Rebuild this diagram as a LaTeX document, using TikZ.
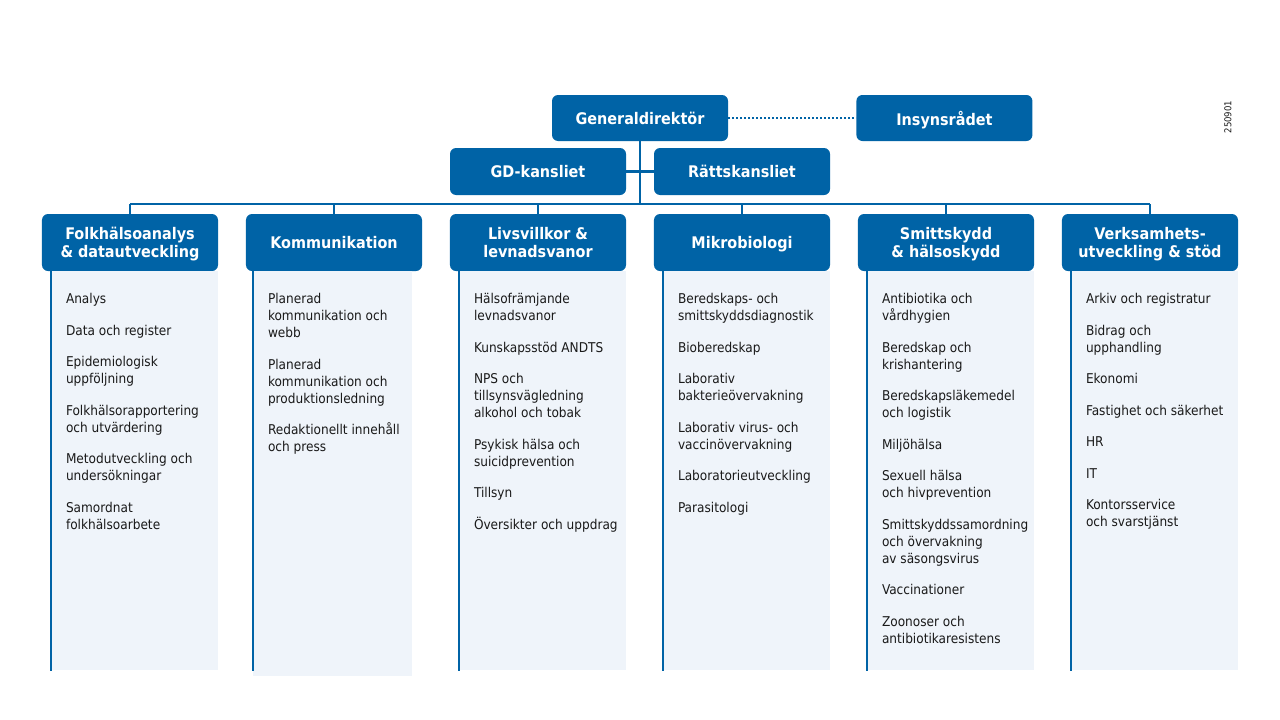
\documentclass[tikz,border=0pt]{standalone}
\usepackage{fontspec}
\setmainfont{DejaVu Sans Condensed}
\usetikzlibrary{positioning, matrix}
\definecolor{fhmblue}{RGB}{0,99,166}
\definecolor{panelblue}{RGB}{239,244,250}
\definecolor{itemtext}{RGB}{26,26,26}
\tikzstyle{unit} = [rectangle, rounded corners=6pt, fill=fhmblue, text=white, anchor=center, align=center, inner sep=0pt, text depth=0pt, minimum width=176pt, minimum height=46pt, font=\fontsize{16}{18}\selectfont\bfseries]
\tikzstyle{dept} = [unit, minimum height=57pt]
\tikzstyle{panel} = [rectangle, fill=panelblue, inner sep=0pt, minimum width=167pt, minimum height=399pt, anchor=north]
\tikzstyle{sideline} = [fhmblue, line width=2.5pt]
\tikzstyle{orgline} = [fhmblue, line width=2.5pt]
\tikzstyle{dotline} = [fhmblue, line width=2pt, dotted]
\tikzstyle{itemlist} = [anchor=north west, align=left, inner sep=0pt, text=itemtext, font=\fontsize{13.5}{17}\selectfont]

\begin{document}
\begin{tikzpicture}[x=1pt, y=-1pt]

    \useasboundingbox (0,0) rectangle (1280,720);

    % top of the organisation
    \node (gd) [unit] at (640,118) {Generaldirektör};
    \node (insyn) [unit, right=128pt of gd] {Insynsrådet};

    \matrix [column sep=28pt] at (640,171.5) {
        \node (gdk) [unit, minimum height=47pt] {GD-kansliet}; &
        \node (rk) [unit, minimum height=47pt] {Rättskansliet}; \\
    };

    % departments
    \matrix [column sep=28pt] at (640,242.5) {
        \node (folk) [dept] {Folkhälsoanalys\\\& datautveckling}; &
        \node (komm) [dept] {Kommunikation}; &
        \node (livs) [dept] {Livsvillkor \&\\levnadsvanor}; &
        \node (mikro) [dept] {Mikrobiologi}; &
        \node (smitt) [dept] {Smittskydd\\\& hälsoskydd}; &
        \node (verks) [dept] {Verksamhets-\\utveckling \& stöd}; \\
    };

    \coordinate (bus) at ([yshift=10pt]folk.north);
    \draw [dotline] (gd.east) -- (insyn.west);
    \draw [orgline] (gd.south) -- (gd.south |- bus);
    \draw [orgline] (gdk.east) -- (rk.west);
    \draw [orgline] (bus) -- (bus -| verks.north);
    \foreach \dep in {folk, komm, livs, mikro, smitt, verks}
        \draw [orgline] (\dep.north) -- (\dep.north |- bus);

    % unit panels below each department
    \node (folkpanel) [panel, below=0pt of folk, xshift=4.5pt] {};
    \node (kommpanel) [panel, below=0pt of komm, xshift=-1.5pt, minimum width=159pt, minimum height=405pt] {};
    \node (livspanel) [panel, below=0pt of livs, xshift=4.5pt] {};
    \node (mikropanel) [panel, below=0pt of mikro, xshift=4.5pt] {};
    \node (smittpanel) [panel, below=0pt of smitt, xshift=4.5pt] {};
    \node (verkspanel) [panel, below=0pt of verks, xshift=4.5pt] {};

    \foreach \dep in {folk, livs, mikro, smitt, verks}
        \draw [sideline] (\dep panel.north west) -- (\dep panel.south west);
    \draw [sideline] (kommpanel.north west) -- ([yshift=6pt]kommpanel.south west);

    \node (folklist) [itemlist] at ([xshift=15pt, yshift=-22pt]folkpanel.north west) {
        Analys\\[14.5pt]
        Data och register\\[14.5pt]
        Epidemiologisk\\uppföljning\\[14.5pt]
        Folkhälsorapportering\\och utvärdering\\[14.5pt]
        Metodutveckling och\\undersökningar\\[14.5pt]
        Samordnat\\folkhälsoarbete};

    \node (kommlist) [itemlist] at ([xshift=15pt, yshift=-22pt]kommpanel.north west) {
        Planerad\\kommunikation och\\webb\\[14.5pt]
        Planerad\\kommunikation och\\produktionsledning\\[14.5pt]
        Redaktionellt innehåll\\och press};

    \node (livslist) [itemlist] at ([xshift=15pt, yshift=-22pt]livspanel.north west) {
        Hälsofrämjande\\levnadsvanor\\[14.5pt]
        Kunskapsstöd ANDTS\\[14.5pt]
        NPS och\\tillsynsvägledning\\alkohol och tobak\\[14.5pt]
        Psykisk hälsa och\\suicidprevention\\[14.5pt]
        Tillsyn\\[14.5pt]
        Översikter och uppdrag};

    \node (mikrolist) [itemlist] at ([xshift=15pt, yshift=-22pt]mikropanel.north west) {
        Beredskaps- och\\smittskyddsdiagnostik\\[14.5pt]
        Bioberedskap\\[14.5pt]
        Laborativ\\bakterieövervakning\\[14.5pt]
        Laborativ virus- och\\vaccinövervakning\\[14.5pt]
        Laboratorieutveckling\\[14.5pt]
        Parasitologi};

    \node (smittlist) [itemlist] at ([xshift=15pt, yshift=-22pt]smittpanel.north west) {
        Antibiotika och\\vårdhygien\\[14.5pt]
        Beredskap och\\krishantering\\[14.5pt]
        Beredskapsläkemedel\\och logistik\\[14.5pt]
        Miljöhälsa\\[14.5pt]
        Sexuell hälsa\\och hivprevention\\[14.5pt]
        Smittskyddssamordning\\och övervakning\\av säsongsvirus\\[14.5pt]
        Vaccinationer\\[14.5pt]
        Zoonoser och\\antibiotikaresistens};

    \node (verkslist) [itemlist] at ([xshift=15pt, yshift=-22pt]verkspanel.north west) {
        Arkiv och registratur\\[14.5pt]
        Bidrag och\\upphandling\\[14.5pt]
        Ekonomi\\[14.5pt]
        Fastighet och säkerhet\\[14.5pt]
        HR\\[14.5pt]
        IT\\[14.5pt]
        Kontorsservice\\och svarstjänst};

    % document number
    \node (docnr) [rotate=90, text=itemtext, font=\fontsize{9.5}{11}\selectfont] at (1228,117) {250901};

\end{tikzpicture}
\end{document}
